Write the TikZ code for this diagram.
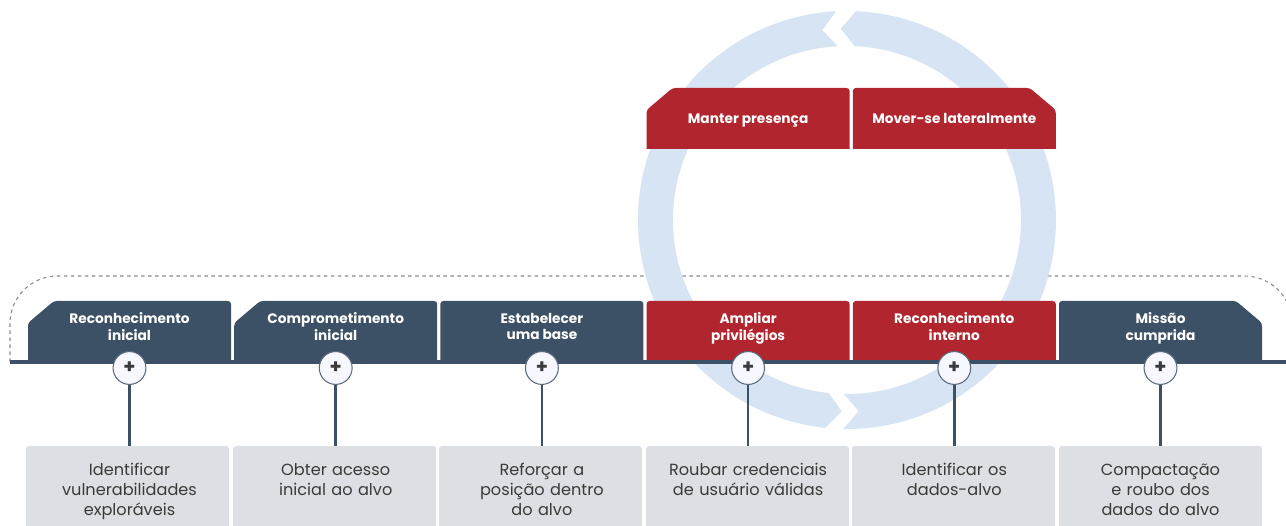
\documentclass[tikz,border=0pt]{standalone}
\usepackage{fontspec}
\setmainfont{Poppins}
\usepackage{tikz}
\usetikzlibrary{backgrounds,positioning}

\definecolor{slate}{HTML}{3D5166}
\definecolor{brick}{HTML}{B1262E}
\definecolor{ringblue}{HTML}{D7E4F3}
\definecolor{paper}{HTML}{DCDFE3}
\definecolor{ink}{HTML}{3A3A3A}

% stage tabs: x of left edge, y of top edge, colour
\newcommand{\tabplain}[3]{\fill[#3, rounded corners=1.7pt] (#1,#2+90) -- (#1,#2) -- (#1+203,#2) -- (#1+203,#2+90) -- cycle;}
\newcommand{\tabcutl}[3]{\fill[#3, rounded corners=1.7pt] (#1,#2+90) -- (#1,#2+22) -- (#1+26,#2) -- (#1+203,#2) -- (#1+203,#2+90) -- cycle;}
\newcommand{\tabcutr}[3]{\fill[#3, rounded corners=1.7pt] (#1,#2+90) -- (#1,#2) -- (#1+177,#2) -- (#1+203,#2+22) -- (#1+203,#2+90) -- cycle;}

\begin{document}
\begin{tikzpicture}[x=0.02cm, y=-0.02cm,
  tnode/.style={text=white, font=\bfseries\fontsize{7.8}{9.6}\selectfont, align=center, inner sep=0pt,
                execute at begin node=\strut, execute at end node=\strut},
  pnode/.style={circle, draw=slate!85, line width=0.6pt, fill=blue!3, minimum size=18.7pt,
                inner sep=0pt, text=ink, font=\bfseries\fontsize{11}{11}\selectfont},
  dnode/.style={anchor=north, text=ink, font=\fontsize{9.2}{11.3}\selectfont, align=center,
                text width=112pt, inner xsep=0pt, inner ysep=8.7pt,
                execute at begin node=\strut, execute at end node=\strut},
  conn/.style={draw=slate, line width=1.4pt},
  dbox/.style={fill=paper, rounded corners=1.7pt}]

\useasboundingbox (0,0) rectangle (1286,526);

% dashed frame round the stages
\draw [gray!90, line width=0.6pt, dash pattern=on 2pt off 2pt, rounded corners=27pt]
  (10,362) -- (10,276) -- (1292,276) -- (1292,420);

% the loop
\begin{scope}[shift={(847,220)}, yscale=-1]
  \fill [ringblue] (-91:209) arc [start angle=-91, end angle=87.5, radius=209]
    -- (91.9:191.5) -- (87.5:174) arc [start angle=87.5, end angle=-91, radius=174]
    -- (-86.5:191.5) -- cycle;
  \fill [ringblue] (93:209) arc [start angle=93, end angle=264, radius=209]
    -- (268.4:191.5) -- (264:174) arc [start angle=264, end angle=93, radius=174]
    -- (97.4:191.5) -- cycle;
\end{scope}

% stage tabs
\begin{scope}
  \clip (0,250) rectangle (1286,362);
  \tabcutl{28}{301}{slate}
  \tabcutl{234.2}{301}{slate}
  \tabplain{440.4}{301}{slate}
  \tabplain{646.6}{301}{brick}
  \tabplain{852.8}{301}{brick}
  \tabcutr{1059}{301}{slate}
\end{scope}
\begin{scope}
  \clip (600,60) rectangle (1100,149);
  \tabcutl{646.6}{88}{brick}
  \tabcutr{852.8}{88}{brick}
\end{scope}

\node (t1) [tnode] at (129.5,329) {Reconhecimento\\inicial};
\node (t2) [tnode] at (335.7,329) {Comprometimento\\inicial};
\node (t3) [tnode] at (541.9,329) {Estabelecer\\uma base};
\node (t4) [tnode] at (748.1,329) {Ampliar\\privilégios};
\node (t5) [tnode] at (954.3,329) {Reconhecimento\\interno};
\node (t6) [tnode] at (1160.5,329) {Missão\\cumprida};

\node (m1) [tnode] at (748.1,120) {Manter presença};
\node (m2) [tnode] at (954.3,120) {Mover-se lateralmente};

\draw [slate, line width=2.2pt] (10,362) -- (1286,362);

% description boxes
\foreach \x in {26,233,439,646,852,1059}
  \fill [dbox] (\x,446) rectangle (\x+203,560);

\node (d1) [dnode] at (129.5,446) {Identificar\\vulnerabilidades\\exploráveis};
\node (d2) [dnode] at (335.7,446) {Obter acesso\\inicial ao alvo};
\node (d3) [dnode] at (541.9,446) {Reforçar a\\posição dentro\\do alvo};
\node (d4) [dnode] at (748.1,446) {Roubar credenciais\\de usuário válidas};
\node (d5) [dnode] at (954.3,446) {Identificar os\\dados-alvo};
\node (d6) [dnode] at (1160.5,446) {Compactação\\e roubo dos\\dados do alvo};

\node (p1) [pnode] at (129.5,368) {+};
\node (p2) [pnode] at (335.7,368) {+};
\node (p3) [pnode] at (541.9,368) {+};
\node (p4) [pnode] at (748.1,368) {+};
\node (p5) [pnode] at (954.3,368) {+};
\node (p6) [pnode] at (1160.5,368) {+};

\foreach \i in {1,...,6}
  \draw [conn] (p\i) -- (d\i);

\end{tikzpicture}
\end{document}
